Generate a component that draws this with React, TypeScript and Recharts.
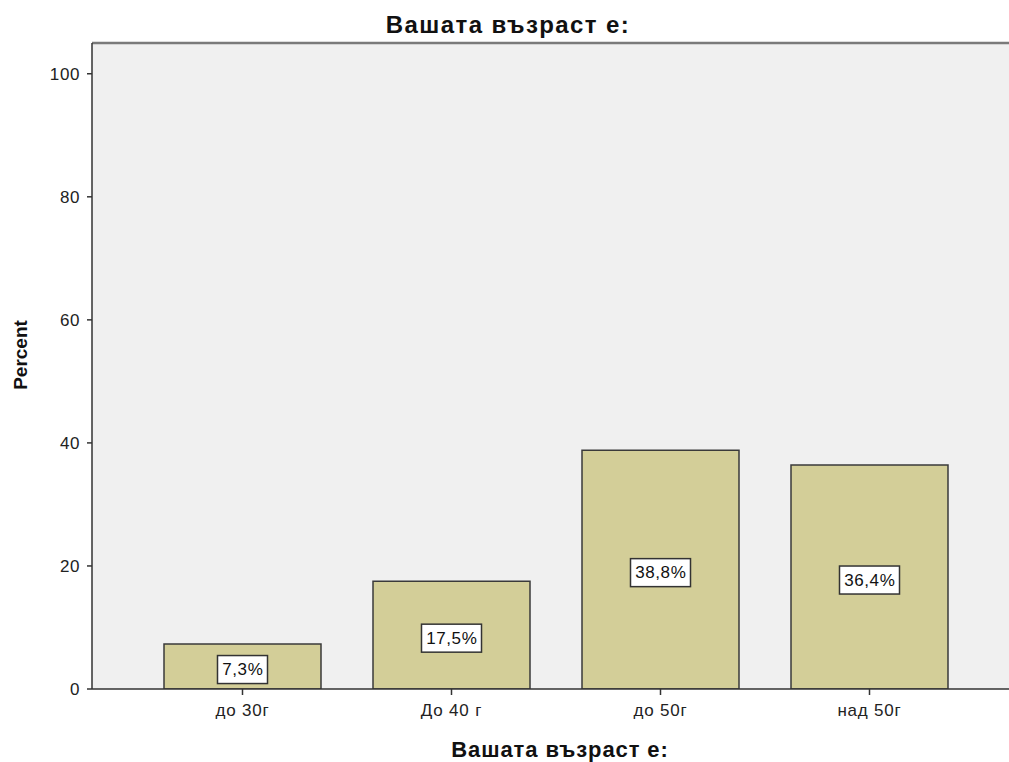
import { BarChart, Bar, XAxis, YAxis, CartesianGrid, ReferenceLine, LabelList } from 'recharts'

// Данни
const categories = ['до 30г', 'До 40 г', 'до 50г', 'над 50г']
const percents = [7.3, 17.5, 38.8, 36.4]
const yTicks = [0, 20, 40, 60, 80, 100]

const FONT = "Arial, 'Liberation Sans', sans-serif"
const BAR_FILL = '#D3CE98'
const BAR_STROKE = '#3A3A3A'
const PLOT_BG = '#F0F0F0'

const data = categories.map((name, i) => ({ name, value: percents[i] }))

const formatPct = (v: number) => `${v.toFixed(1).replace('.', ',')}%`

// Етикет с бяла кутийка в средата на стълба
const BoxLabel = (props: any) => {
  const { x, y, width, height, value } = props
  const text = formatPct(value)
  const boxW = text.length * 10 + 10
  const boxH = 28
  const cx = x + width / 2
  const cy = y + height / 2 + 3
  return (
    <g>
      <rect
        x={cx - boxW / 2}
        y={cy - boxH / 2}
        width={boxW}
        height={boxH}
        fill="#ffffff"
        stroke="#333333"
        strokeWidth={1.5}
      />
      <text
        x={cx + 0.3}
        y={cy + 1}
        textAnchor="middle"
        dominantBaseline="middle"
        fontFamily={FONT}
        fontSize={17}
        letterSpacing={0.6}
        fill="#111111"
      >
        {text}
      </text>
    </g>
  )
}

export default function App() {
  return (
    <div
      style={{
        position: 'absolute',
        left: 0,
        top: 0,
        width: 1009,
        height: 762,
        overflow: 'hidden',
        background: '#ffffff',
        fontFamily: FONT,
      }}
    >
      <div
        style={{
          position: 'absolute',
          left: 0,
          top: 12,
          width: 1016,
          textAlign: 'center',
          fontSize: 24,
          fontWeight: 'bold',
          letterSpacing: 1.4,
          color: '#111',
          lineHeight: '26px',
        }}
      >
        Вашата възраст е:
      </div>
      <BarChart
        width={1040}
        height={762}
        data={data}
        margin={{ top: 43, right: 20, left: 0, bottom: 0 }}
        barSize={157}
      >
        <CartesianGrid fill={PLOT_BG} horizontal={false} vertical={false} />
        <ReferenceLine y={105} stroke="#7A7A7A" strokeWidth={2.5} />
        <XAxis
          dataKey="name"
          height={73}
          padding={{ left: 46, right: 46 }}
          axisLine={{ stroke: '#333', strokeWidth: 1.5 }}
          tickLine={{ stroke: '#333', strokeWidth: 1.5 }}
          tickSize={6}
          tick={{ fontSize: 17, fill: '#222', fontFamily: FONT, letterSpacing: 0.8, dy: 7 }}
          interval={0}
          label={(props: any) => {
            const vb = props.viewBox
            return (
              <text
                x={vb.x + vb.width / 2 + 4}
                y={757}
                textAnchor="middle"
                fontFamily={FONT}
                fontSize={22}
                fontWeight="bold"
                letterSpacing={0.9}
                fill="#111"
              >
                Вашата възраст е:
              </text>
            )
          }}
        />
        <YAxis
          width={92}
          domain={[0, 105]}
          ticks={yTicks}
          allowDataOverflow
          axisLine={{ stroke: '#333', strokeWidth: 1.5 }}
          tickLine={{ stroke: '#333', strokeWidth: 1.5 }}
          tickSize={5}
          tick={{ fontSize: 17, fill: '#222', fontFamily: FONT, letterSpacing: 0.6, dx: -5 }}
          label={(props: any) => {
            const vb = props.viewBox
            const cy = vb.y + vb.height / 2 - 11
            return (
              <text
                x={27}
                y={cy}
                transform={`rotate(-90 27 ${cy})`}
                textAnchor="middle"
                fontFamily={FONT}
                fontSize={19}
                fontWeight="bold"
                fill="#111"
              >
                Percent
              </text>
            )
          }}
        />
        <Bar dataKey="value" fill={BAR_FILL} stroke={BAR_STROKE} strokeWidth={1.5} isAnimationActive={false}>
          <LabelList dataKey="value" content={BoxLabel} />
        </Bar>
      </BarChart>
    </div>
  )
}
